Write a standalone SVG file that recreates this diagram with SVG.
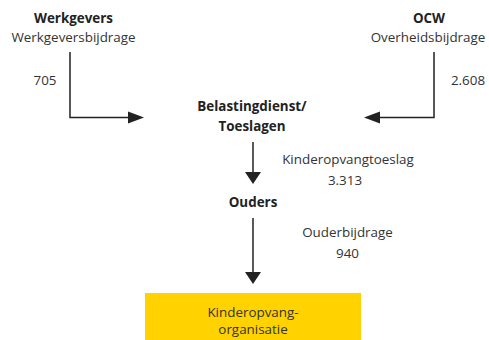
<svg xmlns="http://www.w3.org/2000/svg" width="489" height="340" viewBox="0 0 489 340">
<style>
text{font-family:"Open Sans","Liberation Sans",sans-serif;font-size:13.4px;fill:#333;}
.b{font-weight:bold;fill:#222;}
.m{text-anchor:middle;}
.ln{stroke:#222;stroke-width:1.5;fill:none;}
.ah{fill:#222;}
</style>
<rect width="489" height="340" fill="#fff"/>
<g id="werkgevers">
<text class="b m" x="73.5" y="23">Werkgevers</text>
<text class="m" x="73.5" y="42">Werkgeversbijdrage</text>
</g>
<g id="ocw">
<text class="b m" x="429" y="23">OCW</text>
<text class="m" x="428" y="42">Overheidsbijdrage</text>
</g>
<g id="belastingdienst">
<text class="b m" x="252" y="111">Belastingdienst/</text>
<text class="b m" x="252" y="131">Toeslagen</text>
</g>
<g id="ouders">
<text class="b m" x="253" y="207">Ouders</text>
</g>
<g id="kinderopvang">
<rect x="145" y="293" width="216" height="47" fill="#FFD200"/>
<text class="m" x="253" y="317">Kinderopvang-</text>
<text class="m" x="253" y="334">organisatie</text>
</g>
<g id="connectors">
<path class="ln" d="M70,52 V117.5 H129"/>
<path class="ah" d="M128,111.5 L144,117.5 L128,123.5 z"/>
<path class="ln" d="M434,52 V117.5 H379"/>
<path class="ah" d="M380,111.5 L364,117.5 L380,123.5 z"/>
<path class="ln" d="M253,142 V173"/>
<path class="ah" d="M245,172 L253,184 L261,172 z"/>
<path class="ln" d="M253,218 V273"/>
<path class="ah" d="M245,272 L253,284 L261,272 z"/>
<text x="45" y="85" class="m">705</text>
<text x="468" y="85" class="m">2.608</text>
<text x="348" y="164" class="m">Kinderopvangtoeslag</text>
<text x="345" y="185" class="m">3.313</text>
<text x="347.5" y="237" class="m">Ouderbijdrage</text>
<text x="347.5" y="258" class="m">940</text>
</g>
</svg>
